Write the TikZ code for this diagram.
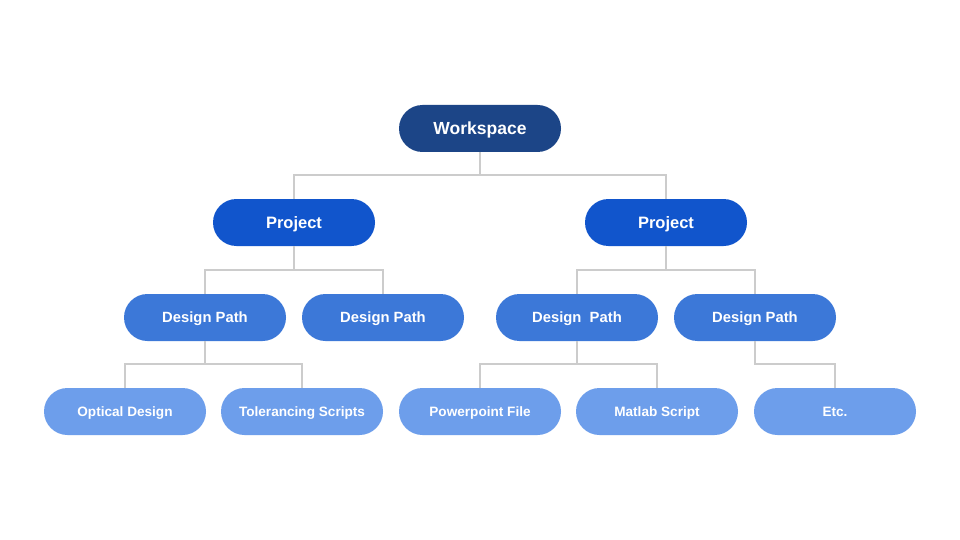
\documentclass[tikz,border=0pt]{standalone}
\usepackage{fontspec}
\setmainfont{Liberation Sans}
\definecolor{cws}{HTML}{1C4587}
\definecolor{cproj}{HTML}{1155CC}
\definecolor{cdp}{HTML}{3C78D8}
\definecolor{cleaf}{HTML}{6D9EEB}
\definecolor{cline}{HTML}{CCCCCC}
\begin{document}
\begin{tikzpicture}[x=1pt,y=-1pt,
  pill/.style={minimum width=162pt,minimum height=47pt,rounded corners=23.5pt,inner sep=0pt,text=white,text depth=0pt},
  wsbox/.style={pill,fill=cws,font=\bfseries\fontsize{17.5}{19}\selectfont,text height=12.3pt},
  projbox/.style={pill,fill=cproj,font=\bfseries\fontsize{16.5}{18}\selectfont,text height=11.6pt},
  dpbox/.style={pill,fill=cdp,font=\bfseries\fontsize{14.8}{16}\selectfont,text height=10.4pt},
  leafbox/.style={pill,fill=cleaf,font=\bfseries\fontsize{13.6}{15}\selectfont,text height=9.6pt},
  conn/.style={draw=cline,line width=2pt}]
\useasboundingbox[fill=white] (0,0) rectangle (960,540);
\node[wsbox] (ws) at (480,128.5) {Workspace};
\node[projbox] (p1) at (294,222.5) {Project};
\node[projbox] (p2) at (666,222.5) {Project};
\node[dpbox] (d1) at (205,317.5) {Design Path};
\node[dpbox] (d2) at (383,317.5) {Design Path};
\node[dpbox] (d3) at (577,317.5) {Design\ \ Path};
\node[dpbox] (d4) at (755,317.5) {Design Path};
\node[leafbox] (l1) at (125,411.5) {Optical Design};
\node[leafbox] (l2) at (302,411.5) {Tolerancing Scripts};
\node[leafbox] (l3) at (480,411.5) {Powerpoint File};
\node[leafbox] (l4) at (657,411.5) {Matlab Script};
\node[leafbox] (l5) at (835,411.5) {Etc.};
\begin{scope}[conn]
\draw (ws.south) -- ++(0,23) -| (p1.north);
\draw (ws.south) -- ++(0,23) -| (p2.north);
\draw (p1.south) -- ++(0,24) -| (d1.north);
\draw (p1.south) -- ++(0,24) -| (d2.north);
\draw (p2.south) -- ++(0,24) -| (d3.north);
\draw (p2.south) -- ++(0,24) -| (d4.north);
\draw (d1.south) -- ++(0,23) -| (l1.north);
\draw (d1.south) -- ++(0,23) -| (l2.north);
\draw (d3.south) -- ++(0,23) -| (l3.north);
\draw (d3.south) -- ++(0,23) -| (l4.north);
\draw (d4.south) -- ++(0,23) -| (l5.north);
\end{scope}
\end{tikzpicture}
\end{document}
